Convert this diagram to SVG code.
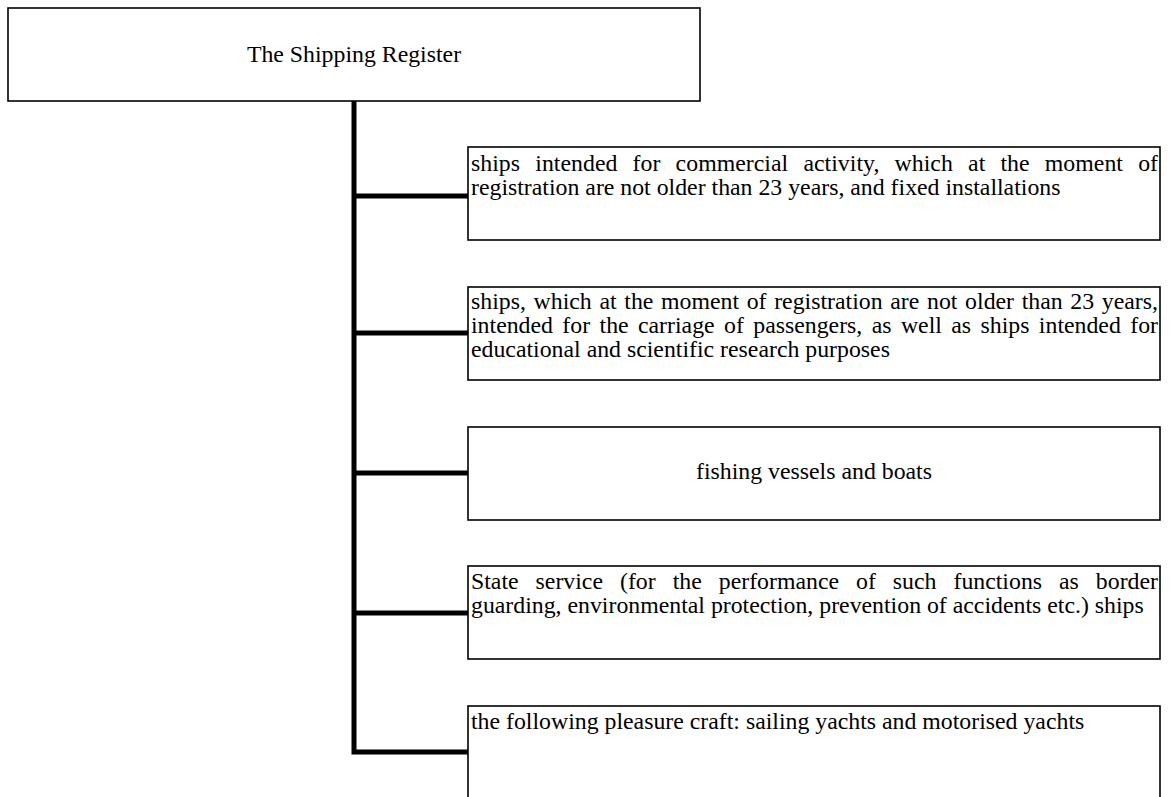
<svg xmlns="http://www.w3.org/2000/svg" width="1173" height="797" viewBox="0 0 1173 797">
<style>
.box{fill:#fff;stroke:#000;stroke-width:1.6}
.conn{fill:none;stroke:#000;stroke-width:5;stroke-linejoin:miter}
.t{font-family:"Liberation Serif","Times New Roman",serif;font-size:23.8px;fill:#000}
</style>
<rect width="1173" height="797" fill="#fff"/>
<g id="connectors">
<line class="conn" x1="354" y1="101" x2="354" y2="196"/>
<path class="conn" d="M354 196 V752 H468"/>
<line class="conn" x1="354" y1="196" x2="468" y2="196"/>
<line class="conn" x1="354" y1="333" x2="468" y2="333"/>
<line class="conn" x1="354" y1="473" x2="468" y2="473"/>
<line class="conn" x1="354" y1="613" x2="468" y2="613"/>
</g>
<g id="root">
<rect class="box" x="8" y="8" width="692" height="93"/>
<text class="t" x="354" y="62" text-anchor="middle">The Shipping Register</text>
</g>
<g id="node1">
<rect class="box" x="468" y="147" width="692" height="93"/>
<text class="t" x="471" y="171" word-spacing="9.2" textLength="687" lengthAdjust="spacing">ships intended for commercial activity, which at the moment of</text>
<text class="t" x="471" y="195">registration are not older than 23 years, and fixed installations</text>
</g>
<g id="node2">
<rect class="box" x="468" y="287" width="692" height="93"/>
<text class="t" x="471" y="309" word-spacing="1.7" textLength="687" lengthAdjust="spacing">ships, which at the moment of registration are not older than 23 years,</text>
<text class="t" x="471" y="333" word-spacing="3.45" textLength="687" lengthAdjust="spacing">intended for the carriage of passengers, as well as ships intended for</text>
<text class="t" x="471" y="357">educational and scientific research purposes</text>
</g>
<g id="node3">
<rect class="box" x="468" y="427" width="692" height="93"/>
<text class="t" x="814" y="479" text-anchor="middle">fishing vessels and boats</text>
</g>
<g id="node4">
<rect class="box" x="468" y="566" width="692" height="93"/>
<text class="t" x="471" y="589" word-spacing="11.05" textLength="687" lengthAdjust="spacing">State service (for the performance of such functions as border</text>
<text class="t" x="471" y="613">guarding, environmental protection, prevention of accidents etc.) ships</text>
</g>
<g id="node5">
<rect class="box" x="468" y="706" width="692" height="100"/>
<text class="t" x="471" y="729">the following pleasure craft: sailing yachts and motorised yachts</text>
</g>
</svg>
